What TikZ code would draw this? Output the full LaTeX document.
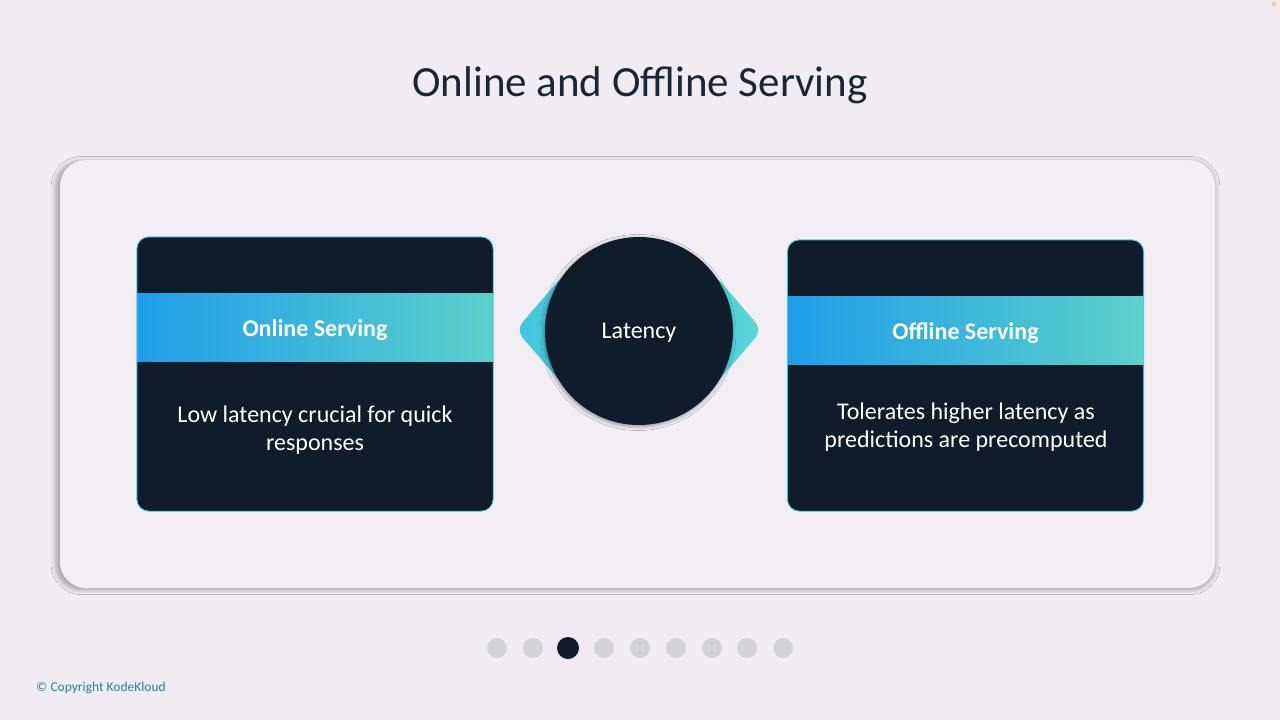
\documentclass[tikz,border=0pt]{standalone}
\usepackage{fontspec}
\setmainfont{Carlito}
\usetikzlibrary{shadows.blur}
\definecolor{bgc}{HTML}{F1ECF2}
\definecolor{panelc}{HTML}{F2EEF3}
\definecolor{navy}{HTML}{0F1C2B}
\definecolor{cyanedge}{HTML}{4FC8DC}
\definecolor{bandl}{HTML}{1E9EEA}
\definecolor{bandr}{HTML}{5CD0CA}
\definecolor{titlec}{HTML}{1A2535}
\definecolor{dotc}{HTML}{D6D2D9}
\definecolor{copyc}{HTML}{2F7F93}
\definecolor{diaml}{HTML}{3FC6DD}
\definecolor{diamr}{HTML}{5AD6D6}
\tikzset{
  cardbox/.style={fill=navy, rounded corners=12, minimum width=356, minimum height=274, inner sep=0},
  cardedge/.style={draw=cyanedge, line width=0.9, rounded corners=12},
  bandbox/.style={left color=bandl, right color=bandr, minimum width=356, minimum height=68, inner sep=0},
  headtxt/.style={text=white, font=\bfseries\fontsize{24}{28}\selectfont},
  bodytxt/.style={text=white, font=\fontsize{24}{28}\selectfont, align=center},
  pagedot/.style={circle, fill=dotc, minimum size=20, inner sep=0},
  wing/.style={left color=diaml, right color=diamr, rounded corners=10},
}
\begin{document}
\begin{tikzpicture}[x=1pt,y=-1pt]
\useasboundingbox (0,0) rectangle (1280,720);
\fill[bgc] (0,0) rectangle (1280,720);
\fill[orange!70, opacity=0.5] (1274,4) circle (2.5);
% title
\node[text=titlec, font=\fontsize{43}{48}\selectfont] (title) at (640,85) {Online and Offline Serving};
% panel
\node[fill=panelc, rounded corners=26, minimum width=1155, minimum height=428, inner sep=0,
      blur shadow={shadow xshift=-2pt, shadow yshift=-1.5pt, shadow scale=1.005, shadow blur radius=4pt, shadow opacity=28}] (panel) at (637.5,374) {};
% left card
\node[cardbox] (lcard) at (315,374) {};
\node[bandbox] (lband) at (315,327) {};
\draw[cardedge] (lcard.south west) rectangle (lcard.north east);
\node[headtxt] (lhead) at (315,330) {Online Serving};
\node[bodytxt] (lbody) at (315,430) {Low latency crucial for quick\\responses};
% right card
\node[cardbox, minimum height=271] (rcard) at (965.5,375.5) {};
\node[bandbox] (rband) at (965.5,330) {};
\draw[cardedge] (rcard.south west) rectangle (rcard.north east);
\node[headtxt] (rhead) at (965.5,333) {Offline Serving};
\node[bodytxt] (rbody) at (966,427) {Tolerates higher latency as\\predictions are precomputed};
% center wings + circle
\shade[wing] (516,330) -- (564,274) [sharp corners] -- (639,330) [rounded corners=10] -- (564,386) -- cycle;
\shade[wing] (762,330) -- (714,274) [sharp corners] -- (639,330) [rounded corners=10] -- (714,386) -- cycle;
\node[circle, fill=navy, minimum size=188, inner sep=0,
      blur shadow={shadow xshift=-1pt, shadow yshift=-1.5pt, shadow blur radius=4pt, shadow opacity=40}] (lat) at (639,331) {};
\node[text=white, font=\fontsize{24}{28}\selectfont] (lattxt) at (639,333) {Latency};
% page dots
\foreach \i/\x in {1/497,2/533,4/604,5/640,6/676,7/712,8/747,9/783}{
  \node[pagedot] (d\i) at (\x,648) {};
}
\node[pagedot, fill=navy, minimum size=22] (d3) at (568,648) {};
% copyright
\node[anchor=west, text=copyc, font=\fontsize{13.5}{16}\selectfont, inner sep=0] (copy) at (36,688) {© Copyright KodeKloud};
\end{tikzpicture}
\end{document}
